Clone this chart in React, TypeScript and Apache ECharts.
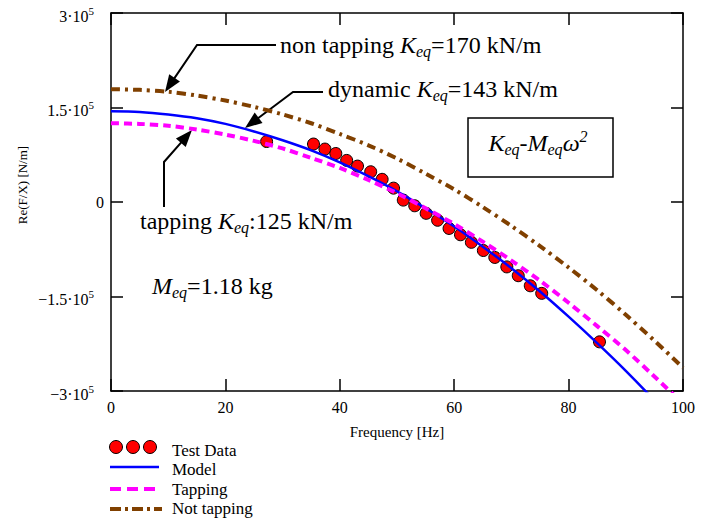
import React, { useEffect, useRef } from 'react';
import * as echarts from 'echarts';

// ---- data ----
const lineFreq = [0, 5, 10, 15, 20, 25, 30, 35, 40, 45, 50, 55, 60, 65, 70, 75, 80, 85, 90, 95, 100];
const modelValues = [144000, 143000, 139000, 133000, 124000, 112000, 98000, 82000, 63000, 41000, 17000, -10000, -39000, -71000, -105000, -142000, -182000, -224000, -268000, -315000, -365000];
const tappingValues = [125000, 124000, 121000, 115000, 107000, 97000, 85000, 70000, 54000, 35000, 14000, -10000, -35000, -63000, -93000, -125000, -160000, -197000, -235000, -277000, -320000];
const notTappingValues = [179000, 178000, 175000, 169000, 161000, 151000, 139000, 125000, 108000, 90000, 69000, 45000, 20000, -8000, -38000, -70000, -104000, -140000, -179000, -220000, -263000];
const testFreq = [27.2, 35.4, 37.4, 39.3, 41.2, 43.1, 45.4, 47.4, 49.4, 51.1, 53.1, 55.1, 57.1, 59.1, 61.1, 63.0, 65.1, 67.1, 69.2, 71.2, 73.3, 75.3, 85.4];
const testValues = [96000, 92000, 84000, 77000, 66000, 57000, 48000, 36000, 22000, 3000, -6000, -18000, -29000, -42000, -52000, -64000, -77000, -88000, -103000, -117000, -133000, -145000, -222000];
const xTicks = { min: 0, max: 100, interval: 20 };
const yTicks = { min: -300000, max: 300000, interval: 150000 };
const legendNames = ['Test Data', 'Model', 'Tapping', 'Not tapping'];

const SERIF = '"Liberation Serif", "Times New Roman", serif';
const BLUE = '#0000ff';
const MAGENTA = '#ff00ff';
const BROWN = '#804000';

let measureCtx: CanvasRenderingContext2D | null = null;
function ctx() {
  if (!measureCtx) measureCtx = document.createElement('canvas').getContext('2d');
  return measureCtx;
}

function pairs(xs: number[], ys: number[]) {
  return xs.map((x, i) => [x, ys[i]]);
}

function arrowGraphics(pts: number[][]) {
  const tip = pts[pts.length - 1];
  const prev = pts[pts.length - 2];
  const dx = tip[0] - prev[0];
  const dy = tip[1] - prev[1];
  const len = Math.hypot(dx, dy);
  const ux = dx / len;
  const uy = dy / len;
  const L = 17;
  const W = 6.5;
  const bx = tip[0] - ux * L;
  const by = tip[1] - uy * L;
  const nx = -uy;
  const ny = ux;
  const shaft = pts.slice(0, -1).concat([[bx + ux * 2, by + uy * 2]]);
  return [
    { type: 'polyline', shape: { points: shaft }, style: { stroke: '#000', lineWidth: 2, fill: null } },
    {
      type: 'polygon',
      shape: { points: [tip, [bx + nx * W, by + ny * W], [bx - nx * W, by - ny * W]] },
      style: { fill: '#000' },
    },
  ];
}

function measure(t: string, size: number, italic: boolean) {
  const c = ctx();
  if (!c) return t.length * size * 0.5;
  c.font = `${italic ? 'italic ' : ''}${size}px ${SERIF}`;
  return c.measureText(t).width;
}

type Part = { t: string; italic?: boolean; kind?: 'sub' | 'sup' };
function compose(x: number, y: number, parts: Part[], align: 'left' | 'center' = 'left') {
  const items = parts.map((p) => {
    const size = p.kind ? 16 : 24;
    return { ...p, size, w: measure(p.t, size, !!p.italic) };
  });
  const total = items.reduce((a, b) => a + b.w, 0);
  let cx = align === 'center' ? x - total / 2 : x;
  return items.map((it) => {
    const el = {
      type: 'text',
      x: cx,
      y: y + (it.kind === 'sub' ? 6 : it.kind === 'sup' ? -7 : 0),
      z: 10,
      style: {
        text: it.t,
        fontFamily: SERIF,
        fontSize: it.size,
        fontStyle: it.italic ? 'italic' : 'normal',
        fill: '#000',
        align: 'left',
        verticalAlign: 'middle',
      },
    };
    cx += it.w;
    return el;
  });
}

function legendText(x: number, y: number, text: string) {
  return {
    type: 'text',
    x,
    y,
    style: { text, fontFamily: SERIF, fontSize: 17, fill: '#000', align: 'left', verticalAlign: 'middle' },
  };
}

export default function App() {
  const ref = useRef<HTMLDivElement>(null);
  useEffect(() => {
    if (!ref.current) return;
    document.body.style.margin = '0';
    const chart = echarts.init(ref.current, undefined, { renderer: 'svg' });

    const axisLine = { show: true, onZero: false, lineStyle: { color: '#000', width: 1.5 } };
    const axisTick = { show: true, inside: true, length: 12, lineStyle: { color: '#000', width: 1.5 } };

    const graphics: any[] = [
      {
        type: 'text',
        x: 22,
        y: 185,
        rotation: Math.PI / 2,
        style: { text: 'Re(F/X) [N/m]', fontFamily: SERIF, fontSize: 13, fill: '#000', align: 'center', verticalAlign: 'middle' },
      },
      ...compose(280, 45, [{ t: 'non tapping ' }, { t: 'K', italic: true }, { t: 'eq', italic: true, kind: 'sub' }, { t: '=170 kN/m' }]),
      ...compose(328, 89, [{ t: 'dynamic ' }, { t: 'K', italic: true }, { t: 'eq', italic: true, kind: 'sub' }, { t: '=143 kN/m' }]),
      ...compose(140, 221, [{ t: 'tapping ' }, { t: 'K', italic: true }, { t: 'eq', italic: true, kind: 'sub' }, { t: ':125 kN/m' }]),
      ...compose(152, 286, [{ t: 'M', italic: true }, { t: 'eq', italic: true, kind: 'sub' }, { t: '=1.18 kg' }]),
      {
        type: 'rect',
        shape: { x: 468, y: 118, width: 145, height: 59 },
        style: { fill: '#fff', stroke: '#000', lineWidth: 1.5 },
        z: 5,
      },
      ...compose(
        538,
        143,
        [
          { t: 'K', italic: true },
          { t: 'eq', italic: true, kind: 'sub' },
          { t: '-' },
          { t: 'M', italic: true },
          { t: 'eq', italic: true, kind: 'sub' },
          { t: 'ω', italic: true },
          { t: '2', italic: true, kind: 'sup' },
        ],
        'center'
      ),
      ...arrowGraphics([[276, 45], [197, 45], [165, 92]]),
      ...arrowGraphics([[323, 92], [293, 92], [245, 128]]),
      ...arrowGraphics([[164, 207], [164, 162], [192, 130]]),
      { type: 'circle', shape: { cx: 116, cy: 447, r: 6.5 }, style: { fill: '#ff0000', stroke: '#000', lineWidth: 1 } },
      { type: 'circle', shape: { cx: 133, cy: 447, r: 6.5 }, style: { fill: '#ff0000', stroke: '#000', lineWidth: 1 } },
      { type: 'circle', shape: { cx: 150, cy: 447, r: 6.5 }, style: { fill: '#ff0000', stroke: '#000', lineWidth: 1 } },
      { type: 'line', shape: { x1: 110, y1: 467, x2: 159, y2: 467 }, style: { stroke: BLUE, lineWidth: 2.5 } },
      { type: 'line', shape: { x1: 110, y1: 489, x2: 160, y2: 489 }, style: { stroke: MAGENTA, lineWidth: 4, lineDash: [11, 6] } },
      { type: 'line', shape: { x1: 110, y1: 509, x2: 162, y2: 509 }, style: { stroke: BROWN, lineWidth: 4, lineDash: [11, 4, 3, 4] } },
      legendText(172, 450, legendNames[0]),
      legendText(172, 469, legendNames[1]),
      legendText(172, 489, legendNames[2]),
      legendText(172, 508, legendNames[3]),
    ];

    chart.setOption({
      animation: false,
      backgroundColor: '#fff',
      textStyle: { fontFamily: SERIF },
      grid: { left: 111, top: 13, width: 572, height: 378, containLabel: false },
      xAxis: [
        {
          type: 'value',
          position: 'bottom',
          ...xTicks,
          axisLine,
          axisTick,
          splitLine: { show: false },
          axisLabel: { margin: 8, fontFamily: SERIF, fontSize: 16, color: '#000' },
          name: 'Frequency [Hz]',
          nameLocation: 'middle',
          nameGap: 33,
          nameTextStyle: { fontFamily: SERIF, fontSize: 15, color: '#000' },
        },
        {
          type: 'value',
          position: 'top',
          ...xTicks,
          axisLine,
          axisTick,
          splitLine: { show: false },
          axisLabel: { show: false },
        },
      ],
      yAxis: [
        {
          type: 'value',
          position: 'left',
          ...yTicks,
          axisLine,
          axisTick,
          splitLine: { show: false },
          axisLabel: {
            margin: 7,
            fontFamily: SERIF,
            fontSize: 16,
            formatter: (v: number) => {
              if (v === 0) return '{z|0}';
              const c = v / 1e5;
              const s = (c < 0 ? '\u2212' : '') + Math.abs(c) + '\u00b710';
              return `{m|${s}}{e|5}`;
            },
            rich: {
              z: { fontFamily: SERIF, fontSize: 16, color: '#000' },
              m: { fontFamily: SERIF, fontSize: 16, lineHeight: 16, padding: [6, 0, 0, 0], color: '#000' },
              e: { fontFamily: SERIF, fontSize: 11, lineHeight: 11, verticalAlign: 'top', padding: [0, 10, 0, 0], color: '#000' },
            },
          },
        },
        {
          type: 'value',
          position: 'right',
          ...yTicks,
          axisLine,
          axisTick,
          splitLine: { show: false },
          axisLabel: { show: false },
        },
      ],
      series: [
        {
          name: legendNames[0],
          type: 'scatter',
          data: pairs(testFreq, testValues),
          symbol: 'circle',
          symbolSize: 12,
          itemStyle: { color: '#ff0000', borderColor: '#000', borderWidth: 1, opacity: 1 },
        },
        {
          name: legendNames[1],
          type: 'line',
          data: pairs(lineFreq, modelValues),
          smooth: 0.3,
          symbol: 'none',
          clip: true,
          lineStyle: { color: BLUE, width: 2.5 },
        },
        {
          name: legendNames[2],
          type: 'line',
          data: pairs(lineFreq, tappingValues),
          smooth: 0.3,
          symbol: 'none',
          clip: true,
          lineStyle: { color: MAGENTA, width: 4, type: [8, 5] },
        },
        {
          name: legendNames[3],
          type: 'line',
          data: pairs(lineFreq, notTappingValues),
          smooth: 0.3,
          symbol: 'none',
          clip: true,
          lineStyle: { color: BROWN, width: 4, type: [9, 5, 3, 5] },
        },
      ],
      graphic: graphics,
    });

    return () => chart.dispose();
  }, []);

  return <div ref={ref} style={{ position: 'fixed', left: 0, top: 0, width: 710, height: 525, background: '#fff' }} />;
}
